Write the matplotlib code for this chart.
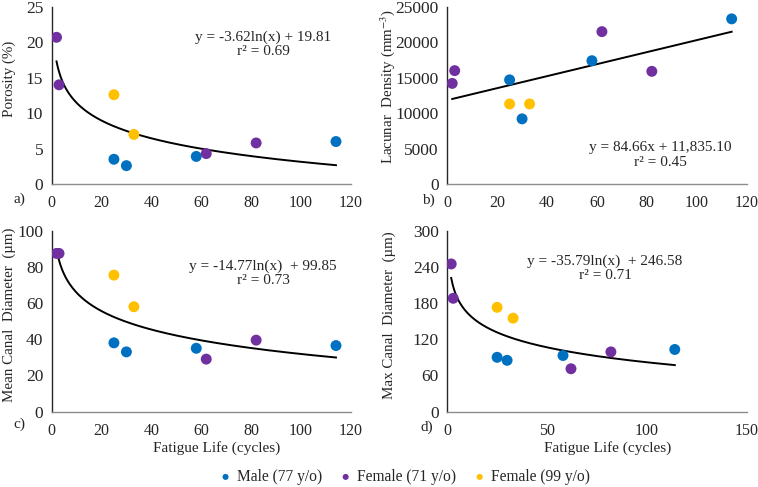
import numpy as np
import matplotlib
matplotlib.use('Agg')
import matplotlib.pyplot as plt

plt.rcParams['font.family'] = ['Liberation Serif', 'DejaVu Serif']
plt.rcParams['mathtext.fontset'] = 'stix'

# fatigue life (cycles) per group
x_male = [25, 30, 58, 114]
x_f71 = [2, 3, 62, 82]
x_f99 = [25, 33]

# a) porosity (%)
por_male = [3.5, 2.6, 3.9, 6.0]
por_f71 = [20.7, 14.0, 4.3, 5.8]
por_f99 = [12.6, 7.0]

# b) lacunar density (mm^-3)
lac_male = [14700, 9200, 17400, 23300]
lac_f71 = [14200, 16000, 21500, 15900]
lac_f99 = [11300, 11300]

# c) mean canal diameter (um)
mcd_male = [38, 33, 35, 36.5]
mcd_f71 = [87.5, 87.5, 29, 39.5]
mcd_f99 = [75.5, 58]

# d) max canal diameter (um)
xcd_male = [90, 85, 93, 103]
xcd_f71 = [245, 188, 71, 99]
xcd_f99 = [173, 155]

groups = ['Male (77 y/o)', 'Female (71 y/o)', 'Female (99 y/o)']
colors = ['#0070C0', '#7030A0', '#FFC000']

fig = plt.figure(figsize=(7.58, 4.87), dpi=100)

top_y, top_h = 0.622, 0.364
bot_y, bot_h = 0.155, 0.371
axw = 0.395

panels = [
    # rect, ylabel, data, ylim, yticks, xlim, xticks, fit, eq text, eq pos, tag
    ([0.068, top_y, axw, top_h], 'Porosity (%)', (por_male, por_f71, por_f99),
     (0, 25), np.arange(0, 26, 5), (0, 120), np.arange(0, 121, 20),
     ('log', -3.62, 19.81), 'y = -3.62ln(x) + 19.81\nr² = 0.69', (263, 44), 'a)'),
    ([0.590, top_y, axw, top_h], 'Lacunar  Density (mm$^{-3}$)', (lac_male, lac_f71, lac_f99),
     (0, 25000), np.arange(0, 25001, 5000), (0, 120), np.arange(0, 121, 20),
     ('lin', 84.66, 11835.10), 'y = 84.66x + 11,835.10\nr² = 0.45', (660, 155), 'b)'),
    ([0.068, bot_y, axw, bot_h], 'Mean Canal  Diameter  (µm)', (mcd_male, mcd_f71, mcd_f99),
     (0, 100), np.arange(0, 101, 20), (0, 120), np.arange(0, 121, 20),
     ('log', -14.77, 99.85), 'y = -14.77ln(x)  + 99.85\nr² = 0.73', (263, 273), 'c)'),
    ([0.590, bot_y, axw, bot_h], 'Max Canal  Diameter  (µm)', (xcd_male, xcd_f71, xcd_f99),
     (0, 300), np.arange(0, 301, 60), (0, 150), np.arange(0, 151, 50),
     ('log', -35.79, 246.58), 'y = -35.79ln(x)  + 246.58\nr² = 0.71', (605, 268), 'd)'),
]

tag_pos = [(13, 199), (422, 200), (13, 424), (420, 427)]
ylab_pos = [(9, 79), (388, 86), (9, 315), (389, 315)]

for i, (rect, ylab, data, ylim, yt, xlim, xt, fit, eq, eqpos, tag) in enumerate(panels):
    ax = fig.add_axes(rect)
    for xs, ys, c, g in zip((x_male, x_f71, x_f99), data, colors, groups):
        ax.scatter(xs, ys, s=62, color=c, edgecolors='none', zorder=3, label=g)
    xf = np.linspace(2, 114, 300)
    kind, m, b = fit
    yf = m * np.log(xf) + b if kind == 'log' else m * xf + b
    ax.plot(xf, yf, color='black', lw=1.4, zorder=2)
    ax.set_xlim(*xlim)
    ax.set_ylim(*ylim)
    ax.set_xticks(xt)
    ax.set_yticks(yt)
    ax.tick_params(axis='x', length=0, labelsize=11.5, colors='#262626', pad=8)
    ax.tick_params(axis='y', length=0, labelsize=12.5, colors='#262626', pad=6)
    for s in ('top', 'right'):
        ax.spines[s].set_visible(False)
    ax.spines['left'].set_color('#262626')
    ax.spines['bottom'].set_color('#8c8c8c')
    ax.spines['left'].set_linewidth(1.0)
    ax.spines['bottom'].set_linewidth(1.0)
    # y label placed by hand, as in the source figure
    fig.text(ylab_pos[i][0] / 758, 1 - ylab_pos[i][1] / 487, ylab, rotation=90,
             ha='center', va='center', fontsize=10.8, color='#262626')
    fig.text(eqpos[0] / 758, 1 - eqpos[1] / 487, eq, ha='center', va='center',
             fontsize=11, color='#262626', linespacing=1.1)
    fig.text(tag_pos[i][0] / 758, 1 - tag_pos[i][1] / 487, tag, ha='left', va='center',
             fontsize=11, color='#262626')
    if i == 0:
        handles, labels = ax.get_legend_handles_labels()

fig.text(217 / 758, 1 - 448 / 487, 'Fatigue Life (cycles)', ha='center', va='center',
         fontsize=11, color='#262626')
fig.text(608 / 758, 1 - 448 / 487, 'Fatigue Life (cycles)', ha='center', va='center',
         fontsize=11, color='#262626')

fig.legend(handles, labels, loc='center', bbox_to_anchor=(404 / 758, 1 - 477 / 487),
           ncol=3, frameon=False, fontsize=11.2, handletextpad=0.25, columnspacing=1.0,
           handlelength=1.0, markerscale=0.55, labelcolor='#262626')

fig.savefig('out.png', dpi=100)
